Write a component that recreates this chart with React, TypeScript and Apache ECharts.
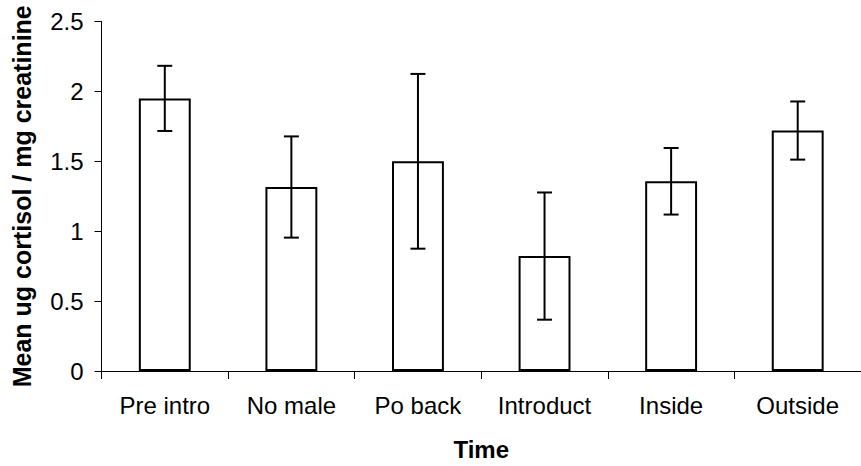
import React, { useEffect, useRef } from "react";
import * as echarts from "echarts";

const categories = ["Pre intro", "No male", "Po back", "Introduct", "Inside", "Outside"];
const means = [1.95, 1.316, 1.5, 0.822, 1.357, 1.72];
const errors = [0.233, 0.362, 0.625, 0.455, 0.238, 0.208];
const yTicks = { min: 0, max: 2.5, interval: 0.5 };

const FONT = "'Liberation Sans', Arial, sans-serif";

export default function App() {
  const ref = useRef<HTMLDivElement>(null);
  useEffect(() => {
    if (!ref.current) return;
    const chart = echarts.init(ref.current, null, { renderer: "svg" });
    const errData = means.map((m, i) => [i, m - errors[i], m + errors[i]]);
    chart.setOption({
      animation: false,
      backgroundColor: "#ffffff",
      textStyle: { fontFamily: FONT },
      grid: { left: 101.5, top: 21.5, bottom: 91, width: 766 },
      xAxis: {
        type: "category",
        data: categories,
        boundaryGap: true,
        name: "Time",
        nameLocation: "middle",
        nameGap: 66,
        nameTextStyle: { fontFamily: FONT, fontSize: 24, fontWeight: "bold", color: "#000" },
        axisLine: { lineStyle: { color: "#000", width: 1 } },
        axisTick: { show: true, length: 8, alignWithLabel: false, lineStyle: { color: "#000" } },
        axisLabel: { fontFamily: FONT, fontSize: 24, color: "#000", margin: 22 },
        splitLine: { show: false },
      },
      yAxis: {
        type: "value",
        min: yTicks.min,
        max: yTicks.max,
        interval: yTicks.interval,
        name: "Mean ug cortisol / mg creatinine",
        nameLocation: "middle",
        nameGap: 67,
        nameTextStyle: { fontFamily: FONT, fontSize: 25, fontWeight: "bold", color: "#000" },
        axisLine: { show: true, lineStyle: { color: "#000", width: 1 } },
        axisTick: { show: true, length: 7, lineStyle: { color: "#000" } },
        axisLabel: { fontFamily: FONT, fontSize: 24, color: "#000", margin: 18 },
        splitLine: { show: false },
      },
      series: [
        {
          type: "bar",
          data: means,
          barWidth: "41%",
          itemStyle: { color: "#ffffff", borderColor: "#000", borderWidth: 2 },
          z: 2,
        },
        {
          type: "custom",
          data: errData,
          z: 3,
          renderItem: (params: any, api: any) => {
            const x = api.value(0);
            const lo = api.coord([x, api.value(1)]);
            const hi = api.coord([x, api.value(2)]);
            const half = 7.5;
            const style = { stroke: "#000", lineWidth: 2 };
            return {
              type: "group",
              children: [
                { type: "line", shape: { x1: hi[0], y1: hi[1], x2: lo[0], y2: lo[1] }, style },
                { type: "line", shape: { x1: hi[0] - half, y1: hi[1], x2: hi[0] + half, y2: hi[1] }, style },
                { type: "line", shape: { x1: lo[0] - half, y1: lo[1], x2: lo[0] + half, y2: lo[1] }, style },
              ],
            };
          },
        },
      ],
    });
    return () => chart.dispose();
  }, []);
  return (
    <div
      ref={ref}
      style={{ position: "fixed", left: 0, top: 0, width: 861, height: 466, background: "#fff" }}
    />
  );
}
